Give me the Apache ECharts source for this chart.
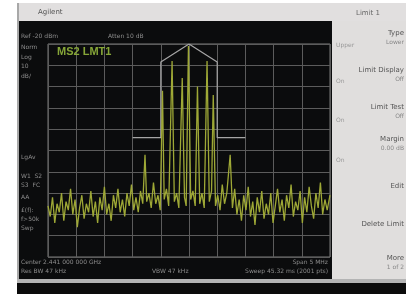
<!DOCTYPE html>
<html>
<head>
<meta charset="utf-8">
<script src="https://cdn.jsdelivr.net/npm/echarts@6/dist/echarts.min.js"></script>
<style>
  html, body { margin: 0; padding: 0; background: #fff; }
  #chart { width: 406px; height: 294px; }
</style>
</head>
<body>
<div id="chart"></div>
<script>
// spectrum trace, offset from center (MHz) and level (dBm)
var freqs = [-2.50, -2.46, -2.42, -2.38, -2.34, -2.30, -2.26, -2.22, -2.18, -2.14, -2.10, -2.06, -2.02, -1.98, -1.94, -1.90, -1.86, -1.82, -1.78, -1.74, -1.70, -1.66, -1.62, -1.58, -1.54, -1.50, -1.46, -1.42, -1.38, -1.34, -1.30, -1.26, -1.22, -1.18, -1.14, -1.10, -1.06, -1.02, -0.98, -0.94, -0.90, -0.86, -0.82, -0.78, -0.75, -0.71, -0.67, -0.63, -0.59, -0.55, -0.51, -0.47, -0.44, -0.40, -0.36, -0.30, -0.26, -0.22, -0.18, -0.12, -0.08, -0.05, -0.01, 0.03, 0.07, 0.11, 0.15, 0.19, 0.23, 0.27, 0.32, 0.36, 0.40, 0.43, 0.47, 0.51, 0.55, 0.59, 0.63, 0.67, 0.73, 0.77, 0.81, 0.85, 0.89, 0.93, 0.97, 1.01, 1.05, 1.09, 1.13, 1.17, 1.21, 1.25, 1.29, 1.33, 1.37, 1.41, 1.45, 1.49, 1.53, 1.57, 1.61, 1.65, 1.69, 1.73, 1.77, 1.81, 1.85, 1.89, 1.93, 1.97, 2.01, 2.05, 2.09, 2.13, 2.17, 2.21, 2.25, 2.29, 2.33, 2.37, 2.41, 2.45, 2.50];
var levels = [-96, -101, -92, -104, -95, -99, -90, -103, -94, -98, -88, -100, -93, -106, -97, -91, -102, -95, -99, -89, -101, -94, -104, -92, -98, -87, -100, -95, -103, -91, -97, -88, -99, -93, -101, -90, -96, -86, -98, -92, -99, -89, -95, -72, -94, -90, -97, -85, -95, -91, -98, -42, -93, -88, -96, -28, -94, -90, -97, -36, -92, -96, -21, -93, -89, -96, -40, -95, -90, -97, -28, -94, -89, -44, -96, -91, -98, -86, -95, -90, -72, -97, -88, -100, -93, -103, -91, -98, -87, -101, -94, -105, -92, -99, -89, -102, -95, -100, -90, -104, -96, -88, -99, -93, -103, -91, -97, -86, -101, -94, -98, -89, -104, -92, -99, -87, -96, -102, -90, -97, -85, -100, -93, -98, -91];

// limit line mask
var limitFreqs = [-1.0, -0.5, -0.5, 0, 0.5, 0.5, 1.0];
var limitLevels = [-64, -64, -28.5, -20, -28.5, -64, -64];

var trace = freqs.map(function (f, i) { return [f, levels[i]]; });
var limit = limitFreqs.map(function (f, i) { return [f, limitLevels[i]]; });

var myChart = echarts.init(document.getElementById('chart'));

var txt = '#8c8c8c';
var font = 'DejaVu Sans';
function label(x, y, s, opt) {
  opt = opt || {};
  return {
    type: 'text', x: x, y: y, z: 100,
    style: {
      text: s, fill: opt.fill || txt,
      font: (opt.bold ? 'bold ' : '') + (opt.size || 6) + 'px ' + (opt.family || font),
      align: opt.align || 'left', verticalAlign: 'middle'
    }
  };
}

var option = {
  backgroundColor: '#ffffff',
  animation: false,
  grid: {
    left: 48, top: 44, right: 76, bottom: 37,
    show: true, borderColor: '#7a7a7a', borderWidth: 1, backgroundColor: 'transparent'
  },
  xAxis: {
    type: 'value', min: -2.5, max: 2.5, interval: 0.5,
    axisLine: { show: false }, axisTick: { show: false }, axisLabel: { show: false },
    splitLine: { lineStyle: { color: '#5c5c5c', width: 1 } }
  },
  yAxis: {
    type: 'value', min: -120, max: -20, interval: 10,
    axisLine: { show: false }, axisTick: { show: false }, axisLabel: { show: false },
    splitLine: { lineStyle: { color: '#5c5c5c', width: 1 } }
  },
  graphic: [
    { type: 'rect', z: -100, shape: { x: 17, y: 3, width: 389, height: 19 }, style: { fill: '#e1dfdf' } },
    { type: 'rect', z: -100, shape: { x: 17, y: 3, width: 2, height: 280 }, style: { fill: '#a8a8a8' } },
    { type: 'rect', z: -100, shape: { x: 19, y: 21, width: 313, height: 258 }, style: { fill: '#0b0c0d' } },
    { type: 'rect', z: -100, shape: { x: 332, y: 21, width: 74, height: 258 }, style: { fill: '#e0dedd' } },
    { type: 'rect', z: -100, shape: { x: 17, y: 279, width: 389, height: 4 }, style: { fill: '#b4b4b4' } },
    { type: 'rect', z: -100, shape: { x: 17, y: 283, width: 389, height: 11 }, style: { fill: '#0b0b0b' } },

    label(38, 12, 'Agilent', { fill: '#555', size: 7 }),
    label(356, 13, 'Limit 1', { fill: '#666', size: 7 }),

    label(21, 36, 'Ref -20 dBm', { size: 6 }),
    label(108, 36, 'Atten 10 dB', { size: 6 }),
    label(57, 52, 'MS2 LMT1', { fill: '#86a638', size: 11, bold: true, family: 'Liberation Sans Narrow, Liberation Sans' }),
    label(21, 47, 'Norm'), label(21, 57, 'Log'), label(21, 66, '10'), label(21, 76, 'dB/'),
    label(21, 157, 'LgAv'), label(21, 176, 'W1  S2'), label(21, 185, 'S3  FC'),
    label(21, 197, 'AA'), label(21, 210, '£(f):'), label(21, 219, 'f>50k'), label(21, 228, 'Swp'),

    label(21, 262, 'Center 2.441 000 000 GHz'),
    label(328, 262, 'Span 5 MHz', { align: 'right' }),
    label(21, 271, 'Res BW 47 kHz'),
    label(152, 271, 'VBW 47 kHz'),
    label(328, 271, 'Sweep 45.32 ms (2001 pts)', { align: 'right' }),

    label(404, 33, 'Type', { fill: '#555', size: 7, align: 'right' }),
    label(404, 42, 'Lower', { fill: '#888', size: 6, align: 'right' }),
    label(336, 45, 'Upper', { fill: '#999', size: 6 }),
    label(404, 70, 'Limit Display', { fill: '#555', size: 7, align: 'right' }),
    label(404, 79, 'Off', { fill: '#888', size: 6, align: 'right' }),
    label(336, 81, 'On', { fill: '#999', size: 6 }),
    label(404, 107, 'Limit Test', { fill: '#555', size: 7, align: 'right' }),
    label(404, 116, 'Off', { fill: '#888', size: 6, align: 'right' }),
    label(336, 120, 'On', { fill: '#999', size: 6 }),
    label(404, 139, 'Margin', { fill: '#555', size: 7, align: 'right' }),
    label(404, 148, '0.00 dB', { fill: '#888', size: 6, align: 'right' }),
    label(336, 160, 'On', { fill: '#999', size: 6 }),
    label(404, 186, 'Edit', { fill: '#555', size: 7, align: 'right' }),
    label(404, 224, 'Delete Limit', { fill: '#555', size: 7, align: 'right' }),
    label(404, 258, 'More', { fill: '#555', size: 7, align: 'right' }),
    label(404, 267, '1 of 2', { fill: '#888', size: 6, align: 'right' })
  ],
  series: [
    {
      type: 'line', data: limit, symbol: 'none', silent: true, z: 3,
      lineStyle: { color: '#a6a6a6', width: 1.2 }
    },
    {
      type: 'line', data: trace, symbol: 'none', silent: true, z: 4,
      lineStyle: { color: '#9ea836', width: 1.3 }
    }
  ]
};

myChart.setOption(option);
</script>
</body>
</html>
